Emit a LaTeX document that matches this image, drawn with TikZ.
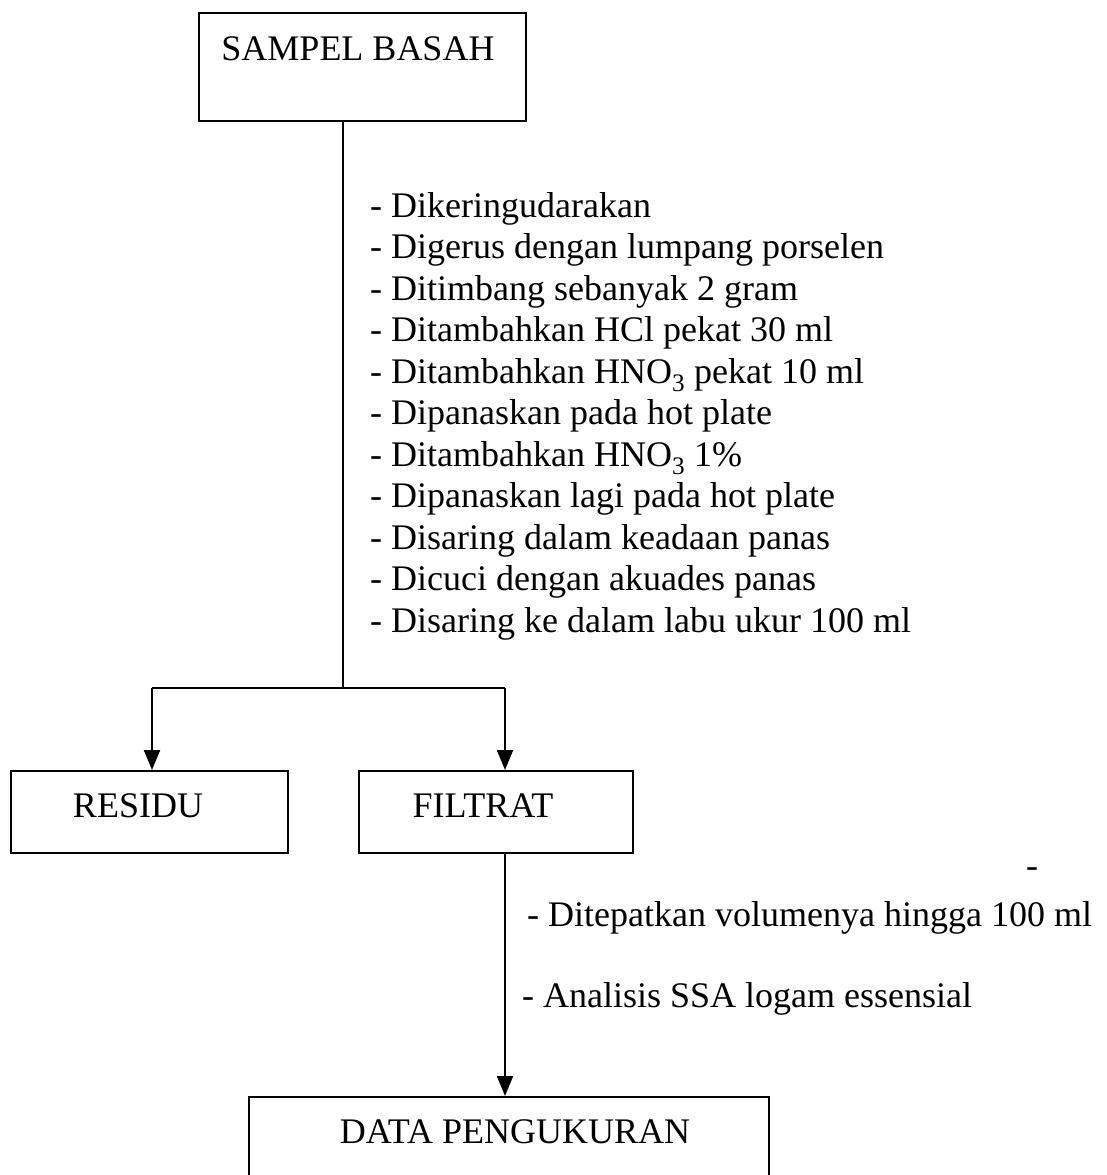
\documentclass[tikz,border=0pt]{standalone}
\usepackage{fontspec}
\setmainfont{Liberation Serif}
\usetikzlibrary{arrows.meta}
\begin{document}
\begin{tikzpicture}[x=1pt,y=-1pt,
  box/.style={draw, line width=2pt, anchor=north west, inner sep=0pt},
  lbl/.style={font=\fontsize{36}{36}\selectfont, inner sep=0pt, anchor=base},
  steps/.style={font=\fontsize{36}{41.5}\selectfont, align=left, inner sep=0pt, anchor=base west},
  conn/.style={line width=2pt},
  arr/.style={line width=2pt, -{Triangle[length=20pt,width=16pt]}}]
\useasboundingbox (0,0) rectangle (1107,1175);
\clip (0,0) rectangle (1107,1175);
\fill[white] (0,0) rectangle (1107,1175);
% boxes
\node[box, minimum width=327pt, minimum height=108pt] (top) at (198,12) {};
\node[lbl] (toptxt) at (358,60) {SAMPEL BASAH};
\node[box, minimum width=277pt, minimum height=82pt] (res) at (10,770) {};
\node[lbl] (restxt) at (138,817) {RESIDU};
\node[box, minimum width=274pt, minimum height=82pt] (fil) at (358,770) {};
\node[lbl] (filtxt) at (483,817) {FILTRAT};
\node[box, minimum width=520pt, minimum height=120pt] (data) at (248,1096) {};
\node[lbl] (datatxt) at (515,1143) {DATA PENGUKURAN};
% connectors
\coordinate (split) at (343,688);
\coordinate (left) at (152,688);
\coordinate (right) at (505,688);
\draw[conn] (top.south -| split) -- (split);
\draw[conn] (left) -- (right);
\draw[arr] (left) -- (res.north -| left);
\draw[arr] (right) -- (fil.north -| right);
\draw[arr] (fil.south -| right) -- (data.north -| right);
% step texts
\node[steps] (list) at (370,632) {- Dikeringudarakan\\
- Digerus dengan lumpang porselen\\
- Ditimbang sebanyak 2 gram\\
- Ditambahkan HCl pekat 30 ml\\
- Ditambahkan HNO\textsubscript{3} pekat 10 ml\\
- Dipanaskan pada hot plate\\
- Ditambahkan HNO\textsubscript{3} 1\%\\
- Dipanaskan lagi pada hot plate\\
- Disaring dalam keadaan panas\\
- Dicuci dengan akuades panas\\
- Disaring ke dalam labu ukur 100 ml};
\node[steps] (s1) at (527,926) {- Ditepatkan volumenya hingga 100 ml};
\node[steps] (s2) at (522,1007) {- Analisis SSA logam essensial};
\node[steps] (dash) at (1026,877) {-};
\end{tikzpicture}
\end{document}
